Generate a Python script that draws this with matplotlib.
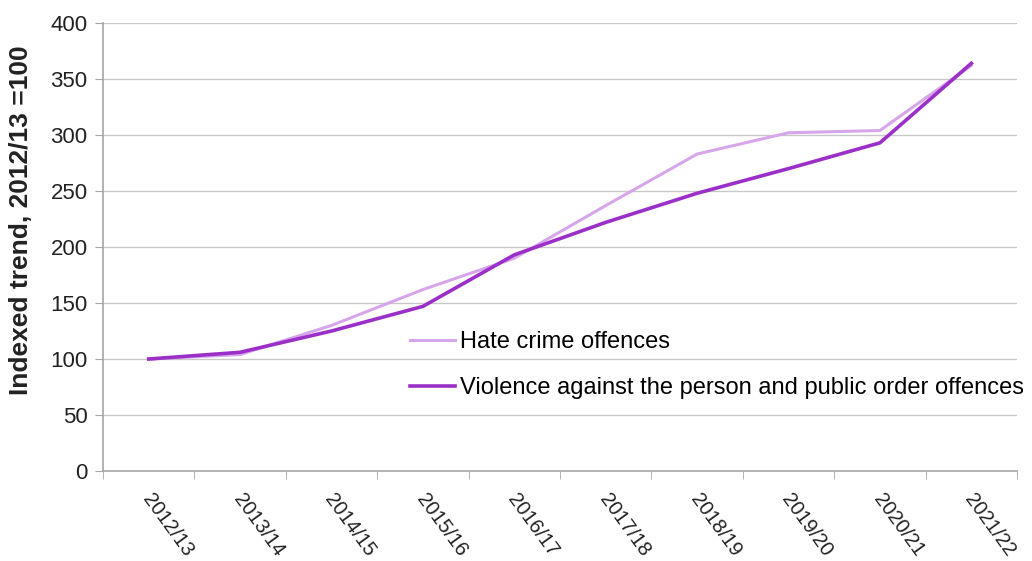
import numpy as np
import matplotlib.pyplot as plt
from matplotlib.transforms import ScaledTranslation

plt.rcParams['font.family'] = ['Liberation Sans', 'DejaVu Sans']

# Datos (índice 2012/13 = 100)
anios = ['2012/13', '2013/14', '2014/15', '2015/16', '2016/17',
         '2017/18', '2018/19', '2019/20', '2020/21', '2021/22']
odio = [100, 104, 130, 162, 190, 237, 283, 302, 304, 362]
violencia = [100, 106, 125, 147, 193, 222, 248, 270, 293, 364]

color_odio = '#D7A6EA'
color_viol = '#9B30C8'
gris = '#A6A6A6'

fig = plt.figure(figsize=(10.32, 5.61), dpi=100)
ax = fig.add_axes([0.0998, 0.1604, 0.8857, 0.7986])

x = np.arange(len(anios))
ax.plot(x, odio, color=color_odio, linewidth=2.2, label='Hate crime offences', zorder=3)
ax.plot(x, violencia, color=color_viol, linewidth=2.6,
        label='Violence against the person and public order offences', zorder=4)

ax.set_xlim(-0.5, len(anios) - 0.5)
ax.set_ylim(0, 400)
ax.set_yticks(np.arange(0, 401, 50))
ax.yaxis.grid(True, color='#C8C8C8', linewidth=1)
ax.set_axisbelow(True)

# etiquetas en el centro de cada categoría, marcas en los límites
ax.set_xticks(x)
ax.set_xticklabels(anios, rotation=-54, ha='left', va='top', rotation_mode='anchor')
ax.set_xticks(np.arange(-0.5, len(anios), 1), minor=True)
ax.tick_params(axis='x', which='major', length=0, pad=14, labelsize=14.5, labelcolor='#222222')
ax.tick_params(axis='x', which='minor', length=6, color=gris)
ax.tick_params(axis='y', length=6, color=gris, labelsize=16, pad=5, labelcolor='#222222')

# pequeño corrimiento a la derecha de las etiquetas del eje x
desplazamiento = ScaledTranslation(5 / 100, 0, fig.dpi_scale_trans)
for etiqueta in ax.get_xticklabels():
    etiqueta.set_transform(etiqueta.get_transform() + desplazamiento)

for lado in ['top', 'right']:
    ax.spines[lado].set_visible(False)
for lado in ['left', 'bottom']:
    ax.spines[lado].set_color(gris)
    ax.spines[lado].set_linewidth(1.2)

ax.set_ylabel('Indexed trend, 2012/13 =100', fontsize=19, fontweight='bold',
              color='#222222')
ax.yaxis.set_label_coords(-0.077, 0.56)

ax.legend(loc='upper left', bbox_to_anchor=(0.336, 0.312), frameon=False,
          fontsize=17, handlelength=1.9, handletextpad=0.2,
          labelspacing=1.0, borderpad=0, borderaxespad=0)

plt.savefig('out.png', dpi=100)
